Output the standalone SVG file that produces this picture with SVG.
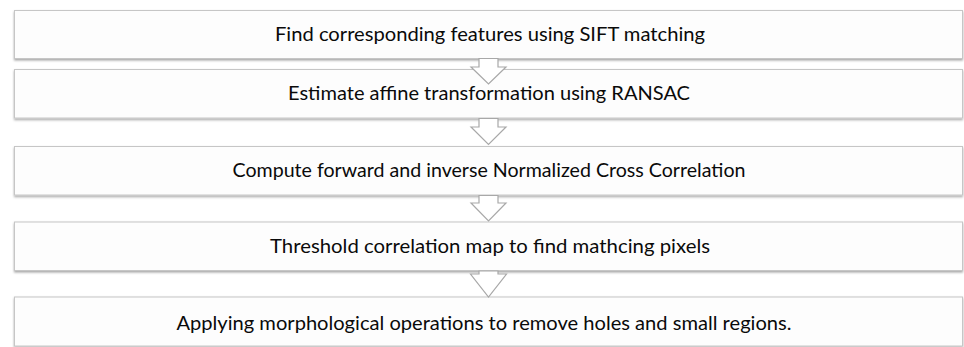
<svg xmlns="http://www.w3.org/2000/svg" width="964" height="347" viewBox="0 0 964 347">
<defs>
<filter id="sh" x="-5%" y="-20%" width="110%" height="150%">
<feDropShadow dx="0" dy="1.5" stdDeviation="1.2" flood-color="#000" flood-opacity="0.35"/>
</filter>
<style>
.box{fill:#fdfdfd;stroke:#c6c6c6;stroke-width:1}
.lbl{font-family:Lato,"Open Sans","Liberation Sans",sans-serif;font-size:19px;fill:#0a0a0a;text-anchor:middle}
.arr{fill:#ffffff;stroke:#a8a8a8;stroke-width:1.2;stroke-linejoin:miter}
</style>
</defs>
<rect width="964" height="347" fill="#ffffff"/>
<g id="n1" filter="url(#sh)"><rect class="box" x="14.5" y="10.5" width="948" height="48"/></g>
<g id="n2" filter="url(#sh)"><rect class="box" x="14.5" y="69.5" width="948" height="48.5"/></g>
<g id="n3" filter="url(#sh)"><rect class="box" x="14.5" y="146.5" width="948" height="48.5"/></g>
<g id="n4" filter="url(#sh)"><rect class="box" x="14.5" y="222" width="948" height="48.5"/></g>
<g id="n5" filter="url(#sh)"><rect class="box" x="14.5" y="297" width="948" height="49"/></g>
<g id="connectors">
<polygon class="arr" points="479,58.5 479,67 471,67 488.5,84 506,67 498,67 498,58.5"/>
<polygon class="arr" points="479,118.5 479,127 471,127 488.5,144.5 506,127 498,127 498,118.5"/>
<polygon class="arr" points="479,195.5 479,203 471,203 488.5,221 506,203 498,203 498,195.5"/>
<polygon class="arr" points="479,271 479,274 470.5,274 488.5,297 506.5,274 498,274 498,271"/>
</g>
<g id="t">
<text class="lbl" x="490" y="41" textLength="430" lengthAdjust="spacingAndGlyphs">Find corresponding features using SIFT matching</text>
<text class="lbl" x="489" y="100" textLength="402" lengthAdjust="spacingAndGlyphs">Estimate affine transformation using RANSAC</text>
<text class="lbl" x="489" y="177" textLength="513" lengthAdjust="spacingAndGlyphs">Compute forward and inverse Normalized Cross Correlation</text>
<text class="lbl" x="490" y="252.5" textLength="440" lengthAdjust="spacingAndGlyphs">Threshold correlation map to find mathcing pixels</text>
<text class="lbl" x="484" y="330" textLength="615" lengthAdjust="spacingAndGlyphs">Applying morphological operations to remove holes and small regions.</text>
</g>
</svg>
